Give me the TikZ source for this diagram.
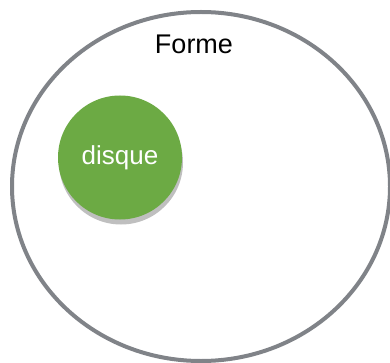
\documentclass[tikz,border=0pt]{standalone}
\usepackage{fontspec}
\setmainfont{Liberation Sans}
\usetikzlibrary{shadows}
\definecolor{ringgray}{RGB}{128,131,136}
\definecolor{diskgreen}{RGB}{108,170,68}
\tikzset{
  outer/.style={draw=ringgray, line width=4pt, ellipse},
  disk/.style={circle, fill=diskgreen, minimum size=124pt, inner sep=0pt, text=white, font=\fontsize{26}{30}\selectfont,
    drop shadow={shadow xshift=1pt, shadow yshift=-5pt, opacity=0.25, fill=black}},
  lbl/.style={font=\fontsize{27}{32}\selectfont, text=black}
}
\begin{document}
\begin{tikzpicture}[x=1pt,y=-1pt]
\useasboundingbox (0,0) rectangle (390,363);
\fill[white] (0,0) rectangle (390,363);
\draw[draw=ringgray, line width=4pt] (201,186.5) ellipse [x radius=189, y radius=174.5];
\node[lbl] (forme) at (194,44) {Forme};
\node[disk] (disque) at (120,157.5) {disque};
\end{tikzpicture}
\end{document}
